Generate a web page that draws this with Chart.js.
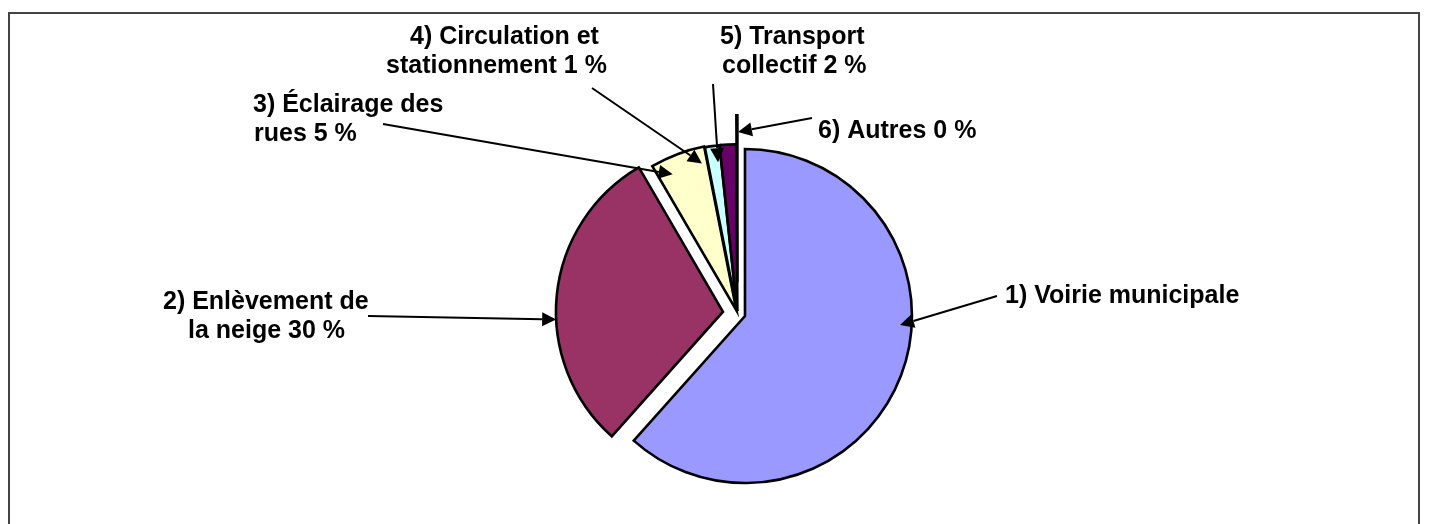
<!DOCTYPE html>
<html>
<head>
<meta charset="utf-8">
<script src="https://cdn.jsdelivr.net/npm/chart.js@4.4.0/dist/chart.umd.min.js"></script>
<style>
  html, body { margin: 0; padding: 0; background: #fff; }
  #wrap { position: relative; width: 1429px; height: 524px; overflow: hidden; }
</style>
</head>
<body>
<div id="wrap"><canvas id="grafico" width="1429" height="524"></canvas></div>
<script>
// Datos del gráfico
const categorias = ["Voirie municipale", "Enlèvement de la neige", "Éclairage des rues", "Circulation et stationnement", "Transport collectif", "Autres"];
const valores = [61.6, 30.0, 5.3, 1.4, 1.6, 0.1];
const colores = ["#9999FF", "#993366", "#FFFFCC", "#CCFFFF", "#660066", "#FF8080"];
const etiquetas = [
  ["1) Voirie municipale"],
  ["2) Enlèvement de", "la neige 30 %"],
  ["3) Éclairage des", "rues 5 %"],
  ["4) Circulation et", "stationnement 1 %"],
  ["5) Transport", "collectif 2 %"],
  ["6) Autres 0 %"],
];

// Presentación: separación de cada porción, textos y flechas
const separacion = [8, 14.6, 3, 2, 2, 31];
const posTexto = [
  [[1005, 296]],
  [[163, 302], [188, 331]],
  [[253, 105], [254, 134]],
  [[410, 37], [386, 66]],
  [[720, 37], [722, 66]],
  [[818, 131]],
];
const flechaDesde = [[997, 296], [368, 316], [383, 124], [592, 88], [713, 84], [812, 118]];
// punta: ángulo (grados desde arriba, sentido horario) y fracción del radio
const flechaPunta = [[93.3, 0.93], [267.3, 1.0], [334.9, 0.9], [346.6, 0.91], [352.6, 0.9], [0.2, 0.9]];

function vertice(el, i) {
  const mitad = (el.startAngle + el.endAngle) / 2;
  return [el.x + Math.cos(mitad) * separacion[i], el.y + Math.sin(mitad) * separacion[i]];
}

const porcionesSeparadas = {
  id: "porcionesSeparadas",
  beforeDatasetDraw(chart, args) {
    const ctx = chart.ctx;
    args.meta.data.forEach((el, i) => {
      const mitad = (el.startAngle + el.endAngle) / 2;
      ctx.save();
      ctx.translate(Math.cos(mitad) * separacion[i], Math.sin(mitad) * separacion[i]);
      el.draw(ctx);
      ctx.restore();
    });
    return false;
  },
};

const etiquetasFlechas = {
  id: "etiquetasFlechas",
  afterDraw(chart) {
    const ctx = chart.ctx;
    const arcos = chart.getDatasetMeta(0).data;
    ctx.save();
    // marco
    ctx.strokeStyle = "#444";
    ctx.lineWidth = 2;
    ctx.strokeRect(9, 13, 1410, 600);

    ctx.fillStyle = "#000";
    ctx.font = "bold 25px 'Liberation Sans', Arial, sans-serif";
    ctx.textBaseline = "middle";
    ctx.textAlign = "left";
    etiquetas.forEach((lineas, i) => {
      lineas.forEach((txt, j) => {
        ctx.fillText(txt, posTexto[i][j][0], posTexto[i][j][1]);
      });
    });

    arcos.forEach((el, i) => {
      const [vx, vy] = vertice(el, i);
      const ang = (flechaPunta[i][0] - 90) * Math.PI / 180;
      const r = el.outerRadius * flechaPunta[i][1];
      const tx = vx + Math.cos(ang) * r;
      const ty = vy + Math.sin(ang) * r;
      const [sx, sy] = flechaDesde[i];
      const dir = Math.atan2(ty - sy, tx - sx);
      const largo = 14, ancho = 7;
      const bx = tx - Math.cos(dir) * largo;
      const by = ty - Math.sin(dir) * largo;
      ctx.strokeStyle = "#000";
      ctx.lineWidth = 2;
      ctx.beginPath();
      ctx.moveTo(sx, sy);
      ctx.lineTo(bx, by);
      ctx.stroke();
      ctx.beginPath();
      ctx.moveTo(tx, ty);
      ctx.lineTo(bx - Math.sin(dir) * ancho, by + Math.cos(dir) * ancho);
      ctx.lineTo(bx + Math.sin(dir) * ancho, by - Math.cos(dir) * ancho);
      ctx.closePath();
      ctx.fill();
    });
    ctx.restore();
  },
};

const ctxGrafico = document.getElementById("grafico");
new Chart(ctxGrafico, {
  type: "pie",
  data: {
    labels: categorias,
    datasets: [
      {
        data: valores,
        backgroundColor: colores,
        borderColor: "#000",
        borderWidth: 2.6,
        borderJoinStyle: "miter",
        offset: 0,
        hoverOffset: 0,
      },
    ],
  },
  options: {
    responsive: false,
    animation: false,
    radius: 167,
    layout: { padding: { left: 46, right: 0, top: 102.4, bottom: 0 } },
    plugins: {
      legend: { display: false },
      tooltip: { enabled: false },
    },
  },
  plugins: [porcionesSeparadas, etiquetasFlechas],
});
</script>
</body>
</html>
